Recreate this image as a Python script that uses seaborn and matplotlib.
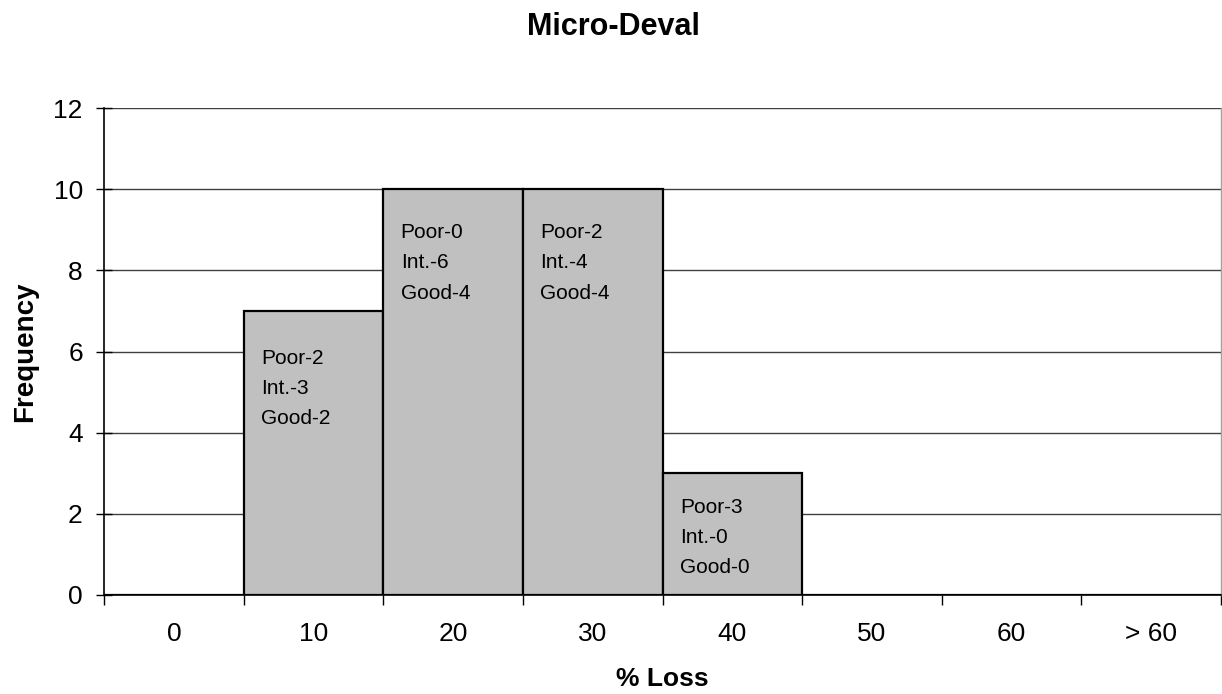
import matplotlib
matplotlib.use("Agg")
import matplotlib.pyplot as plt
import seaborn as sns
import pandas as pd
import numpy as np

categories = ["0", "10", "20", "30", "40", "50", "60", "> 60"]
frequency = [0, 7, 10, 10, 3, 0, 0, 0]
bar_notes = ["", "Poor-2\nInt.-3\nGood-2", "Poor-0\nInt.-6\nGood-4",
             "Poor-2\nInt.-4\nGood-4", "Poor-3\nInt.-0\nGood-0", "", "", ""]
yticks = [0, 2, 4, 6, 8, 10, 12]

# vertical gap (data units) between bar top and its note (layout only)
note_gap = [0, 0.93, 0.83, 0.83, 0.6, 0, 0, 0]

sns.set_theme(style="white")
plt.rcParams['font.family'] = ['Liberation Sans', 'DejaVu Sans']
plt.rcParams['text.color'] = 'black'
plt.rcParams['axes.labelcolor'] = 'black'
plt.rcParams['xtick.color'] = 'black'
plt.rcParams['ytick.color'] = 'black'

fig = plt.figure(figsize=(12.22, 6.94), dpi=100)
ax = fig.add_axes([104/1222, 1-595/694, (1221-104)/1222, (595-108)/694])

df = pd.DataFrame({"cat": categories, "freq": frequency})
sns.barplot(data=df, x="cat", y="freq", order=categories, color="#C0C0C0",
            width=1.0, edgecolor="black", linewidth=1.6, saturation=1, ax=ax, zorder=3)

ax.set_xlim(-0.5, len(categories) - 0.5)
ax.set_ylim(0, 12)
ax.set_yticks(yticks)
ax.set_yticklabels([str(v) for v in yticks], fontsize=19)
ax.yaxis.grid(True, color="#404040", linewidth=1.0, zorder=0)
ax.set_axisbelow(True)

# x ticks at category boundaries, labels at centres
ax.set_xticks(np.arange(-0.5, len(categories), 1.0))
ax.set_xticklabels([])
ax.set_xticks(np.arange(len(categories)), minor=True)
ax.set_xticklabels(categories, minor=True, fontsize=19)
ax.tick_params(axis="x", which="major", direction="out", length=7, width=1, color="black", bottom=True)
ax.tick_params(axis="x", which="minor", length=0, pad=19.5)
ax.tick_params(axis="y", direction="inout", length=11.5, width=1, color="black", left=True, pad=9.5)

for s in ["left", "bottom"]:
    ax.spines[s].set_color("black")
    ax.spines[s].set_linewidth(1.2)
ax.spines["top"].set_visible(False)
ax.spines["right"].set_color("#A0A0A0")
ax.spines["right"].set_linewidth(1.0)

for i, (h, note) in enumerate(zip(frequency, bar_notes)):
    if note:
        ax.text(i - 0.375, h - note_gap[i], note, ha="left", va="top",
                fontsize=15, linespacing=1.76, zorder=5)

ax.set_xlabel("% Loss", fontsize=19, fontweight="bold", labelpad=15)
ax.set_ylabel("Frequency", fontsize=20, fontweight="bold", labelpad=11)
fig.text(613/1222, 1-35/694, "Micro-Deval", ha="center", va="baseline",
         fontsize=22, fontweight="bold")

fig.savefig("out.png", dpi=100)
